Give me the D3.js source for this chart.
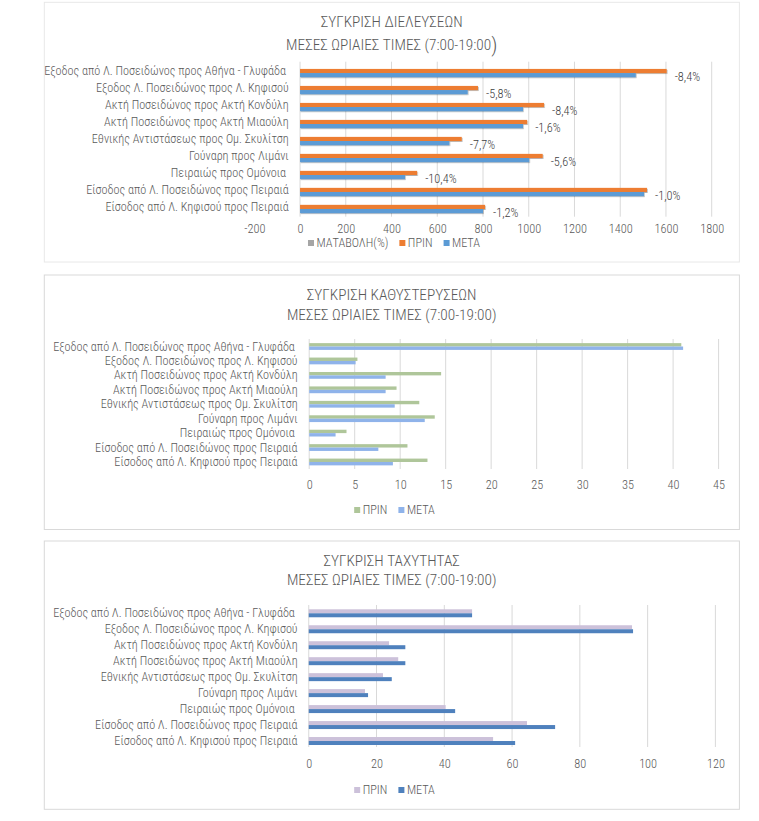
<!DOCTYPE html>
<html>
<head>
<meta charset="utf-8">
<script src="https://cdn.jsdelivr.net/npm/d3@7"></script>
<style>
  html, body { margin: 0; padding: 0; background: #ffffff; }
  svg { display: block; }
  text { font-weight: 300; }
</style>
</head>
<body>
<svg id="chart" width="759" height="821"></svg>
<script>
// ---------------- DATA ----------------
const categories = [
  "Εξοδος από Λ. Ποσειδώνος προς Αθήνα - Γλυφάδα ",
  "Εξοδος Λ. Ποσειδώνος προς Λ. Κηφισού",
  "Ακτή Ποσειδώνος προς Ακτή Κονδύλη",
  "Ακτή Ποσειδώνος προς Ακτή Μιαούλη",
  "Εθνικής Αντιστάσεως προς Ομ. Σκυλίτση",
  "Γούναρη προς Λιμάνι",
  "Πειραιώς προς Ομόνοια ",
  "Είσοδος από Λ. Ποσειδώνος προς Πειραιά",
  "Είσοδος από Λ. Κηφισού προς Πειραιά"
];

// Chart 1: crossings (vehicles / hour)
const crossingsChange = [-8.4, -5.8, -8.4, -1.6, -7.7, -5.6, -10.4, -1.0, -1.2]; // %
const crossingsBefore = [1603, 778, 1067, 993, 707, 1061, 512, 1517, 809];
const crossingsAfter  = [1468, 733, 975, 975, 653, 1002, 459, 1504, 800];
const crossingsTicks  = [-200, 0, 200, 400, 600, 800, 1000, 1200, 1400, 1600, 1800];

// Chart 2: delays
const delayBefore = [40.9, 5.3, 14.5, 9.6, 12.1, 13.8, 4.1, 10.8, 13.0];
const delayAfter  = [41.1, 5.1, 8.4, 8.4, 9.4, 12.7, 2.9, 7.6, 9.2];
const delayTicks  = [0, 5, 10, 15, 20, 25, 30, 35, 40, 45];

// Chart 3: speed
const speedBefore = [48.2, 95.4, 23.7, 26.4, 21.9, 16.6, 40.4, 64.4, 54.4];
const speedAfter  = [48.2, 95.7, 28.5, 28.5, 24.5, 17.5, 43.2, 72.7, 60.9];
const speedTicks  = [0, 20, 40, 60, 80, 100, 120];

const subtitle = "ΜΕΣΕΣ ΩΡΙΑΙΕΣ ΤΙΜΕΣ (7:00-19:00";

// ---------------- DRAW ----------------
const svg = d3.select("#chart");
const FONT = "'Liberation Sans Narrow', 'Roboto Condensed', 'Open Sans', sans-serif";
const TEXT = "#595959";

function fitSize(text, target) {
  const t = svg.append("text").attr("font-family", FONT).attr("font-size", 100)
    .style("white-space", "pre").text(text);
  const w = t.node().getComputedTextLength();
  t.remove();
  return 100 * target / w;
}

const catSize = fitSize("Εξοδος από Λ. Ποσειδώνος προς Αθήνα - Γλυφάδα", 242);
const tickSize = fitSize("1800", 24);
const titleSize = fitSize("ΣΥΓΚΡΙΣΗ ΔΙΕΛΕΥΣΕΩΝ", 142);
const legendSize = fitSize("ΜΑΤΑΒΟΛΗ(%)", 72);

// drop shadow for first chart
const defs = svg.append("defs");
const f = defs.append("filter").attr("id", "shadow").attr("x", "-5%").attr("y", "-50%")
  .attr("width", "110%").attr("height", "200%");
f.append("feDropShadow").attr("dx", 0.6).attr("dy", 0.9).attr("stdDeviation", 0.5)
  .attr("flood-color", "#000").attr("flood-opacity", 0.35);

function drawChart(cfg) {
  const g = svg.append("g");
  // panel border
  g.append("rect")
    .attr("x", cfg.panel[0]).attr("y", cfg.panel[1])
    .attr("width", cfg.panel[2] - cfg.panel[0]).attr("height", cfg.panel[3] - cfg.panel[1])
    .attr("fill", "#fff").attr("stroke", cfg.border).attr("stroke-width", 1);

  // titles
  g.append("text").attr("x", cfg.cx).attr("y", cfg.titleY[0])
    .attr("text-anchor", "middle").attr("dominant-baseline", "central")
    .attr("font-family", FONT).attr("font-size", titleSize).attr("fill", TEXT)
    .text(cfg.title);
  const t2 = g.append("text").attr("x", cfg.cx).attr("y", cfg.titleY[1])
    .attr("text-anchor", "middle").attr("dominant-baseline", "central")
    .attr("font-family", FONT).attr("font-size", titleSize).attr("fill", TEXT);
  t2.append("tspan").text(subtitle);
  t2.append("tspan").attr("font-size", cfg.bigParen ? titleSize * 1.35 : titleSize).text(")");

  const x = d3.scaleLinear().domain(cfg.domain).range(cfg.xRange);
  const y = d3.scaleBand().domain(categories).range(cfg.yRange)
    .paddingInner(cfg.padding).paddingOuter(cfg.padding / 2);
  const ys = d3.scaleBand().domain(cfg.series.map(s => s.name)).range([0, y.bandwidth()]);

  // gridlines
  g.append("g").selectAll("line").data(cfg.ticks.filter(v => v >= 0)).join("line")
    .attr("x1", d => x(d)).attr("x2", d => x(d))
    .attr("y1", cfg.gridY[0]).attr("y2", cfg.gridY[1])
    .attr("stroke", "#D9D9D9").attr("stroke-width", 1);

  // tick labels via axis
  const ax = g.append("g").attr("transform", `translate(0,${cfg.tickY})`)
    .call(d3.axisBottom(x).tickValues(cfg.ticks).tickSize(0).tickPadding(0).tickFormat(d => String(d)));
  ax.select(".domain").remove();
  ax.selectAll("text").attr("dy", "0.35em").attr("y", 0)
    .attr("font-family", FONT).attr("font-size", tickSize).attr("fill", TEXT);

  // category labels
  g.append("g").selectAll("text").data(categories).join("text")
    .attr("x", cfg.labelX).attr("y", d => y(d) + y.bandwidth() / 2)
    .attr("text-anchor", "end").attr("dominant-baseline", "central")
    .style("white-space", "pre")
    .attr("font-family", FONT).attr("font-size", catSize).attr("fill", TEXT)
    .text(d => d);

  // bars
  cfg.series.forEach(s => {
    g.append("g").attr("filter", cfg.shadow ? "url(#shadow)" : null)
      .selectAll("rect").data(s.values).join("rect")
      .attr("x", d => x(Math.min(0, d)))
      .attr("width", d => Math.abs(x(d) - x(0)))
      .attr("y", (d, i) => y(categories[i]) + ys(s.name))
      .attr("height", ys.bandwidth())
      .attr("fill", s.color);
  });

  // data labels
  if (cfg.dataLabels) {
    const dl = cfg.dataLabels;
    g.append("g").selectAll("text").data(dl.values).join("text")
      .attr("x", (d, i) => x(Math.max(...cfg.series.map(s => s.values[i]))) + 8)
      .attr("y", (d, i) => y(categories[i]) + ys(dl.anchorSeries) + ys.bandwidth() / 2 + 1.5)
      .attr("dominant-baseline", "central")
      .attr("font-family", FONT).attr("font-size", tickSize).attr("fill", "#404040")
      .text(d => d.toFixed(1).replace(".", ",") + "%");
  }

  // legend
  const items = cfg.legend;
  const sw = 6, gap1 = 2.5, gap2 = 11;
  const lg = g.append("g");
  let cur = 0;
  items.forEach(it => {
    const gg = lg.append("g");
    gg.append("rect").attr("x", cur).attr("y", -sw / 2).attr("width", sw).attr("height", sw).attr("fill", it.color);
    const tx = gg.append("text").attr("x", cur + sw + gap1).attr("y", 0)
      .attr("dominant-baseline", "central")
      .attr("font-family", FONT).attr("font-size", legendSize).attr("fill", TEXT).text(it.name);
    cur += sw + gap1 + tx.node().getComputedTextLength() + gap2;
  });
  const total = cur - gap2;
  lg.attr("transform", `translate(${cfg.legendCx - total / 2},${cfg.legendY})`);
}

const valuesChange = crossingsChange.map(v => v / 100);

drawChart({
  panel: [44.3, 2.3, 739.4, 262], border: "#E8E8E8", cx: 391.7,
  title: "ΣΥΓΚΡΙΣΗ ΔΙΕΛΕΥΣΕΩΝ", titleY: [22, 45], bigParen: true,
  domain: [-200, 1800], xRange: [254.3, 711.7], ticks: crossingsTicks,
  yRange: [62.5, 215.4], padding: 0.27, gridY: [61.7, 216.7], tickY: 228.5,
  labelX: 288.7, shadow: true,
  series: [
    { name: "ΜΑΤΑΒΟΛΗ(%)", values: valuesChange, color: "#A5A5A5" },
    { name: "ΠΡΙΝ", values: crossingsBefore, color: "#ED7D31" },
    { name: "ΜΕΤΑ", values: crossingsAfter, color: "#5B9BD5" }
  ],
  dataLabels: { values: crossingsChange, anchorSeries: "ΜΕΤΑ" },
  legend: [
    { name: "ΜΑΤΑΒΟΛΗ(%)", color: "#A5A5A5" },
    { name: "ΠΡΙΝ", color: "#ED7D31" },
    { name: "ΜΕΤΑ", color: "#5B9BD5" }
  ],
  legendCx: 394, legendY: 243
});

drawChart({
  panel: [44.3, 275, 739.4, 529.5], border: "#D9D9D9", cx: 391.7,
  title: "ΣΥΓΚΡΙΣΗ ΚΑΘΥΣΤΕΡΥΣΕΩΝ", titleY: [295, 315], bigParen: false,
  domain: [0, 45], xRange: [309.2, 718.6], ticks: delayTicks,
  yRange: [339.3, 469.2], padding: 0.53, gridY: [339, 469], tickY: 485,
  labelX: 297.6, shadow: false,
  series: [
    { name: "ΠΡΙΝ", values: delayBefore, color: "#AFC69A" },
    { name: "ΜΕΤΑ", values: delayAfter, color: "#8FB3EA" }
  ],
  legend: [
    { name: "ΠΡΙΝ", color: "#AFC69A" },
    { name: "ΜΕΤΑ", color: "#8FB3EA" }
  ],
  legendCx: 394.5, legendY: 510
});

drawChart({
  panel: [44.3, 541, 739.4, 809.3], border: "#D9D9D9", cx: 391.7,
  title: "ΣΥΓΚΡΙΣΗ ΤΑΧΥΤΗΤΑΣ", titleY: [561, 580], bigParen: false,
  domain: [0, 120], xRange: [308.75, 715.4], ticks: speedTicks,
  yRange: [605.3, 749], padding: 0.5, gridY: [605, 747], tickY: 764,
  labelX: 297.6, shadow: false,
  series: [
    { name: "ΠΡΙΝ", values: speedBefore, color: "#CCC1DA" },
    { name: "ΜΕΤΑ", values: speedAfter, color: "#4F81BD" }
  ],
  legend: [
    { name: "ΠΡΙΝ", color: "#CCC1DA" },
    { name: "ΜΕΤΑ", color: "#4F81BD" }
  ],
  legendCx: 394.5, legendY: 790
});
</script>
</body>
</html>
